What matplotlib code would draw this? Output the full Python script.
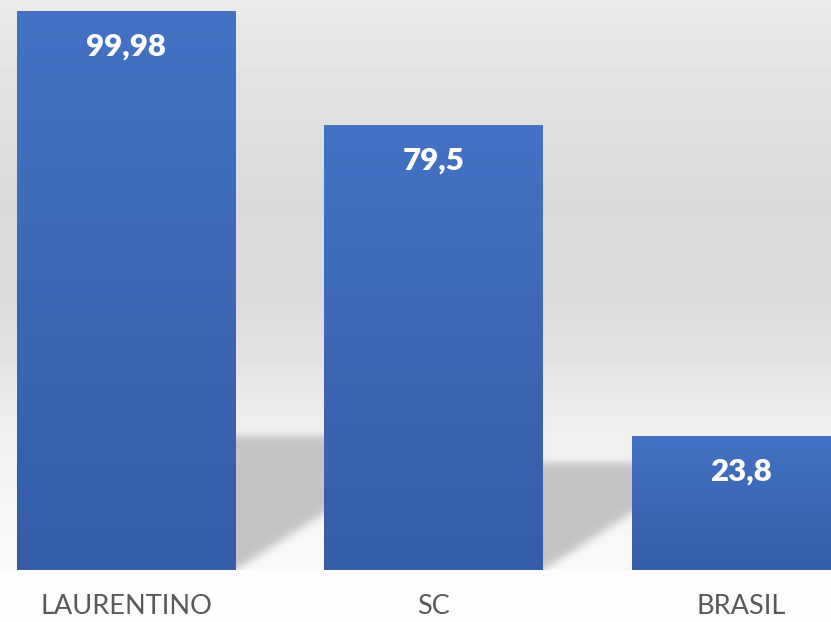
import numpy as np
import matplotlib
matplotlib.use("Agg")
import matplotlib.pyplot as plt
from matplotlib.colors import LinearSegmentedColormap

# chart data
categories = ["LAURENTINO", "SC", "BRASIL"]
values = [99.98, 79.5, 23.8]
value_labels = ["99,98", "79,5", "23,8"]

# look of the chart
BAR_WIDTH = 0.712
SHADOW_SCALE = 0.24  # shadow height relative to bar height
SHADOW_SKEW = 1.55   # horizontal px per vertical px of the shadow
SHADOW_GREY = 196
BAR_TOP = "#4472c4"
BAR_BOTTOM = "#355da8"

plt.rcParams["font.family"] = ["Lato", "DejaVu Sans"]

fig = plt.figure(figsize=(8.31, 6.22), dpi=100, facecolor="#fdfdfd")
ax = fig.add_axes([0, 52 / 622, 1, 570 / 622])
xlim = (-0.411, 2.291)
ylim = (0, 101.97)

# background: grey gradient plus blurred perspective shadows behind bars
W, H = 831, 570
xs = xlim[0] + (np.arange(W) + 0.5) / W * (xlim[1] - xlim[0])
ys = ylim[1] - (np.arange(H) + 0.5) / H * (ylim[1] - ylim[0])
X, Y = np.meshgrid(xs, ys)

t = (ylim[1] - Y) / (ylim[1] - ylim[0])
bg = np.interp(t, [0, 0.1, 0.35, 0.52, 0.62, 0.75, 0.9, 1.0],
               [236, 229, 218, 219, 226, 239, 246, 250])

# data-x per data-y for the shadow skew
k = SHADOW_SKEW * (H / (ylim[1] - ylim[0])) / (W / (xlim[1] - xlim[0]))
mask = np.zeros_like(X)
for i, v in enumerate(values):
    x0, x1 = i - BAR_WIDTH / 2, i + BAR_WIDTH / 2
    hs = SHADOW_SCALE * v
    inside = (Y >= 0) & (Y <= hs) & (X >= x0 + k * Y) & (X <= x1 + k * Y)
    mask[inside] = 1.0

# gaussian blur (separable)
sig = 4.0
r = np.arange(-12, 13)
kern = np.exp(-r**2 / (2 * sig**2))
kern /= kern.sum()
mask = np.apply_along_axis(lambda row: np.convolve(row, kern, mode="same"), 1, mask)
mask = np.apply_along_axis(lambda col: np.convolve(col, kern, mode="same"), 0, mask)

img = bg * (1 - mask) + SHADOW_GREY * mask
ax.imshow(img, cmap="gray", vmin=0, vmax=255, extent=(*xlim, *ylim),
          aspect="auto", interpolation="bilinear", zorder=0)

# bars with vertical gradient
bar_cmap = LinearSegmentedColormap.from_list("bar", [BAR_TOP, BAR_BOTTOM])
bars = ax.bar(range(len(values)), values, width=BAR_WIDTH, color="none",
              linewidth=0, zorder=2)
grad = np.linspace(0, 1, 256)[:, None]
for rect in bars:
    x0 = rect.get_x()
    ax.imshow(grad, cmap=bar_cmap, extent=(x0, x0 + rect.get_width(), 0, rect.get_height()),
              aspect="auto", origin="upper", zorder=2)

# value labels inside the bars
for i, (v, lab) in enumerate(zip(values, value_labels)):
    ax.annotate(lab, (i, v), xytext=(0, -25.2), textcoords="offset points",
                ha="center", va="center", color="white", fontsize=22.5,
                fontweight="heavy", zorder=3)

ax.set_xlim(*xlim)
ax.set_ylim(*ylim)
ax.set_xticks(range(len(categories)), categories)
ax.set_yticks([])
ax.tick_params(axis="x", length=0, pad=17.5, labelsize=19.5, labelcolor="#595959")
for s in ax.spines.values():
    s.set_visible(False)

fig.savefig("out.png", dpi=100, facecolor=fig.get_facecolor())
